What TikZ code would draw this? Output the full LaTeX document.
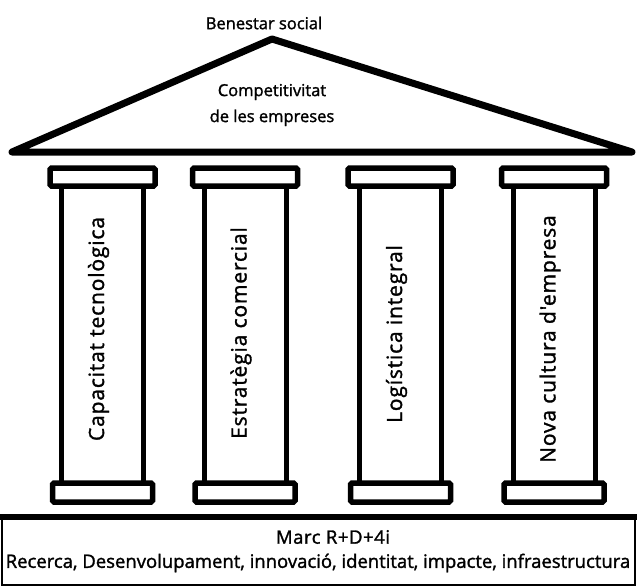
\documentclass[tikz,border=0pt]{standalone}
\usepackage{fontspec}
\setmainfont{Open Sans}
\newfontfamily\labfont{Open Sans}[FakeBold=1.5]
\begin{document}
\begin{tikzpicture}[x=1pt,y=-1pt,
  roof/.style={line width=7pt,line join=round,line cap=round},
  capital/.style={line width=5.5pt,rounded corners=1.5pt},
  shaft/.style={line width=5pt},
  label/.style={inner sep=0pt,font=\labfont\fontsize{16.5}{26}\selectfont},
  pillartext/.style={inner sep=0pt,rotate=90,font=\labfont\fontsize{21}{23}\selectfont\addfontfeature{LetterSpace=4}}]
\useasboundingbox (0,0) rectangle (637,587);

% roof
\draw[roof] (12,152) -- (272,39) -- (632,152) -- cycle;
\node[label] (top) at (264,23) {Benestar social};
\node[label,align=center] (comp) at (272,105) {Competitivitat\\de les empreses};

% pillars: capital, shaft, base
\foreach \cx/\name/\txt/\ty in {
    102.5/p1/Capacitat tecnològica/329,
    245/p2/Estratègia comercial/333,
    400.5/p3/Logística integral/334,
    554/p4/Nova cultura d'empresa/339} {
  \draw[capital] (\cx-52.5,168) rectangle (\cx+52.5,186);
  \draw[shaft] (\cx-41,186) -- (\cx-41,483) (\cx+41,186) -- (\cx+41,483);
  \draw[capital] (\cx-50,483) rectangle (\cx+50,502);
  \node[pillartext] (\name) at (\cx-4,\ty) {\txt};
}

% foundation
\draw[line width=1.2pt] (2,517) -- (2,585) -- (635,585) -- (635,517);
\draw[line width=6pt] (0,517) -- (637,517);
\node[label,font=\labfont\fontsize{18.5}{20}\selectfont\addfontfeature{LetterSpace=3}] (marc) at (333,537) {Marc R+D+4i};
\node[label,font=\labfont\fontsize{18.5}{20}\selectfont] (sub) at (318,563) {Recerca, Desenvolupament, innovació, identitat, impacte, infraestructura};
\end{tikzpicture}
\end{document}
